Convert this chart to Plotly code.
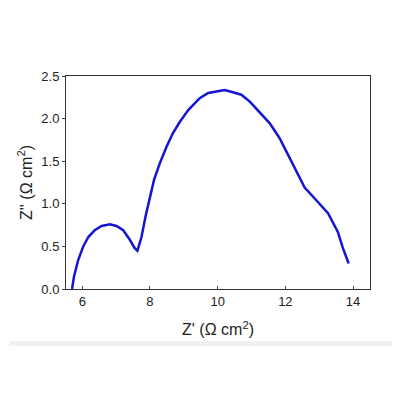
import plotly.graph_objects as go

# Nyquist plot values
z_real = [5.70, 5.755, 5.88, 6.03, 6.18, 6.37, 6.57, 6.82, 7.01, 7.21, 7.41, 7.55, 7.63,
          7.75, 7.88, 7.95, 8.12, 8.29, 8.49, 8.68, 8.88, 9.13, 9.37, 9.47, 9.72, 9.96,
          10.21, 10.45, 10.70, 10.95, 11.24, 11.54, 11.83, 12.13, 12.37, 12.57, 12.86,
          13.26, 13.55, 13.70, 13.87]
z_imag = [0.0, 0.145, 0.34, 0.50, 0.61, 0.69, 0.74, 0.76, 0.74, 0.69, 0.575, 0.48, 0.45,
          0.61, 0.87, 1.0, 1.28, 1.475, 1.67, 1.83, 1.96, 2.10, 2.20, 2.24, 2.30, 2.315,
          2.335, 2.31, 2.28, 2.20, 2.08, 1.945, 1.77, 1.53, 1.34, 1.19, 1.065,
          0.89, 0.67, 0.48, 0.30]

x_ticks = [6, 8, 10, 12, 14]
y_ticks = [0.0, 0.5, 1.0, 1.5, 2.0, 2.5]

font = "Liberation Sans, Arial, sans-serif"

fig = go.Figure()
fig.add_trace(
    go.Scatter(
        x=z_real,
        y=z_imag,
        mode="lines",
        line=dict(color="#1414d4", width=2.5),
        showlegend=False,
    )
)

# the page body adds an 8px offset, so the figure is 392 px square
fig.update_layout(
    width=392,
    height=392,
    margin=dict(l=58, r=30, t=68, b=111),
    paper_bgcolor="white",
    plot_bgcolor="white",
    font=dict(family=font, size=13, color="#222"),
    xaxis=dict(
        range=[5.52, 14.5],
        tickvals=x_ticks,
        ticktext=[str(v) for v in x_ticks],
        ticks="inside",
        ticklen=3,
        tickcolor="#444",
        showgrid=False,
        zeroline=False,
        showline=True,
        linecolor="#333",
        linewidth=1,
        mirror=True,
        title=dict(text="Z' (Ω cm<sup>2</sup>)", font=dict(size=16), standoff=16),
    ),
    yaxis=dict(
        range=[0, 2.5],
        tickvals=y_ticks,
        ticktext=[f"{v:.1f}" for v in y_ticks],
        ticks="outside",
        ticklen=3,
        tickcolor="#444",
        showgrid=False,
        zeroline=False,
        showline=True,
        linecolor="#333",
        linewidth=1,
        mirror=True,
        title=dict(text="Z'' (Ω cm<sup>2</sup>)", font=dict(size=16), standoff=4),
    ),
    shapes=[
        dict(
            type="rect", xref="paper", yref="paper",
            x0=-0.1875, x1=1.1, y0=-0.267, y1=-0.245,
            fillcolor="#f0f0f0", line=dict(width=0), layer="below",
        )
    ],
)

fig.write_html("out.html")
